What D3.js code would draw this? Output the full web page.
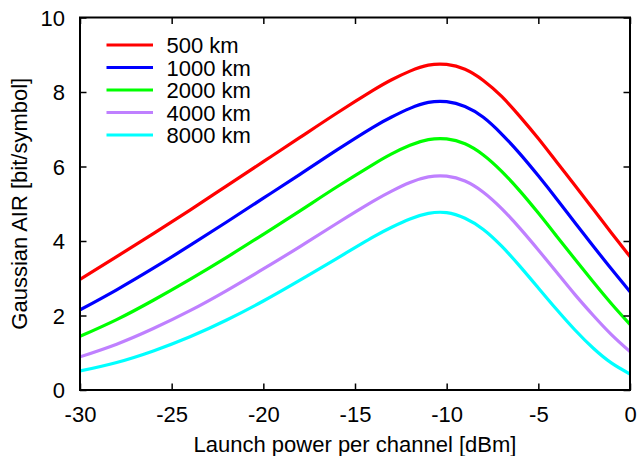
<!DOCTYPE html>
<html>
<head>
<meta charset="utf-8">
<script src="https://cdn.jsdelivr.net/npm/d3@7"></script>
<style>
  html, body { margin: 0; padding: 0; background: #fff; }
  svg { display: block; }
  text { font-family: "Liberation Sans", Arial, Helvetica, sans-serif; fill: #000; }
</style>
</head>
<body>
<svg id="chart" width="639" height="456"></svg>
<script>
// ---- data ----
const powers = [-30,-28,-26,-24,-22,-20,-18,-16,-14,-13,-12,-11,-10,-9,-8,-7,-6,-5,-4,-3,-2,-1,0];
const air500  = [2.97,3.58,4.20,4.83,5.48,6.13,6.78,7.43,8.05,8.33,8.56,8.72,8.74,8.61,8.31,7.88,7.34,6.75,6.12,5.49,4.85,4.21,3.58];
const air1000 = [2.15,2.69,3.27,3.88,4.51,5.15,5.79,6.44,7.06,7.33,7.56,7.72,7.74,7.61,7.32,6.87,6.34,5.75,5.13,4.49,3.86,3.24,2.64];
const air2000 = [1.44,1.89,2.41,2.97,3.56,4.18,4.81,5.45,6.06,6.34,6.57,6.72,6.74,6.61,6.31,5.87,5.34,4.75,4.13,3.51,2.90,2.31,1.76];
const air4000 = [0.89,1.23,1.65,2.13,2.67,3.25,3.85,4.47,5.07,5.34,5.57,5.72,5.74,5.61,5.31,4.87,4.34,3.76,3.16,2.56,2.00,1.48,1.03];
const air8000 = [0.51,0.74,1.05,1.43,1.88,2.39,2.95,3.53,4.11,4.37,4.59,4.74,4.76,4.61,4.31,3.86,3.32,2.74,2.16,1.61,1.12,0.72,0.43];
const seriesNames = ["500 km","1000 km","2000 km","4000 km","8000 km"];
const seriesColors = ["#ff0000","#0000ff","#00ff00","#bf80ff","#00ffff"];
const seriesValues = [air500, air1000, air2000, air4000, air8000];
const xTicks = [-30,-25,-20,-15,-10,-5,0];
const yTicks = [0,2,4,6,8,10];
const xLabel = "Launch power per channel [dBm]";
const yLabel = "Gaussian AIR [bit/symbol]";

// ---- layout ----
const svg = d3.select("#chart");
const L = 80, R = 630, T = 17.5, B = 390;
const x = d3.scaleLinear().domain([-30, 0]).range([L, R]);
const y = d3.scaleLinear().domain([0, 10]).range([B, T]);
const tickLen = 6.5;
const fontSize = 22;
const plain = d => String(d);

// clip
svg.append("defs").append("clipPath").attr("id", "plotclip")
  .append("rect").attr("x", L).attr("y", T).attr("width", R - L).attr("height", B - T);

// curves
const line = d3.line()
  .x(d => x(d[0]))
  .y(d => y(d[1]))
  .curve(d3.curveNatural);

const curves = svg.append("g").attr("clip-path", "url(#plotclip)");
seriesValues.forEach((vals, i) => {
  curves.append("path")
    .datum(powers.map((p, j) => [p, vals[j]]))
    .attr("d", line)
    .attr("fill", "none")
    .attr("stroke", seriesColors[i])
    .attr("stroke-width", 3.2)
    .attr("stroke-linejoin", "round")
    .attr("stroke-linecap", "butt");
});

// axes (inner ticks on all four sides)
const axB = d3.axisBottom(x).tickValues(xTicks).tickSize(-tickLen).tickFormat(plain);
const axT = d3.axisTop(x).tickValues(xTicks).tickSize(-tickLen).tickFormat("");
const axLft = d3.axisLeft(y).tickValues(yTicks).tickSize(-tickLen).tickFormat(plain);
const axRt = d3.axisRight(y).tickValues(yTicks).tickSize(-tickLen).tickFormat("");

function styleAxis(g) {
  g.select(".domain").remove();
  g.selectAll(".tick line").attr("stroke", "#000").attr("stroke-width", 1.5);
}

const gB = svg.append("g").attr("transform", `translate(0,${B})`).call(axB).call(styleAxis);
gB.selectAll(".tick text")
  .attr("y", 32).attr("dy", 0)
  .attr("font-size", fontSize)
  .attr("font-family", "Liberation Sans, Arial, sans-serif")
  .attr("fill", "#000");

svg.append("g").attr("transform", `translate(0,${T})`).call(axT).call(styleAxis);

const gL = svg.append("g").attr("transform", `translate(${L},0)`).call(axLft).call(styleAxis);
gL.selectAll(".tick text")
  .attr("x", -15).attr("dy", "0.36em")
  .attr("font-size", fontSize)
  .attr("font-family", "Liberation Sans, Arial, sans-serif")
  .attr("fill", "#000");

svg.append("g").attr("transform", `translate(${R},0)`).call(axRt).call(styleAxis);

// frame
svg.append("rect")
  .attr("x", L).attr("y", T).attr("width", R - L).attr("height", B - T)
  .attr("fill", "none").attr("stroke", "#000").attr("stroke-width", 2);

// axis labels
svg.append("text")
  .attr("x", (L + R) / 2).attr("y", 451.5)
  .attr("text-anchor", "middle")
  .attr("font-size", fontSize)
  .text(xLabel);

svg.append("text")
  .attr("transform", `translate(27,${(T + B) / 2}) rotate(-90)`)
  .attr("text-anchor", "middle")
  .attr("font-size", fontSize)
  .text(yLabel);

// legend
const legend = svg.append("g");
seriesNames.forEach((name, i) => {
  const cy = 45 + i * 22.5;
  legend.append("line")
    .attr("x1", 106.5).attr("x2", 153).attr("y1", cy).attr("y2", cy)
    .attr("stroke", seriesColors[i]).attr("stroke-width", 3.2);
  legend.append("text")
    .attr("x", 166.5).attr("y", cy + 8)
    .attr("font-size", fontSize)
    .text(name);
});
</script>
</body>
</html>
